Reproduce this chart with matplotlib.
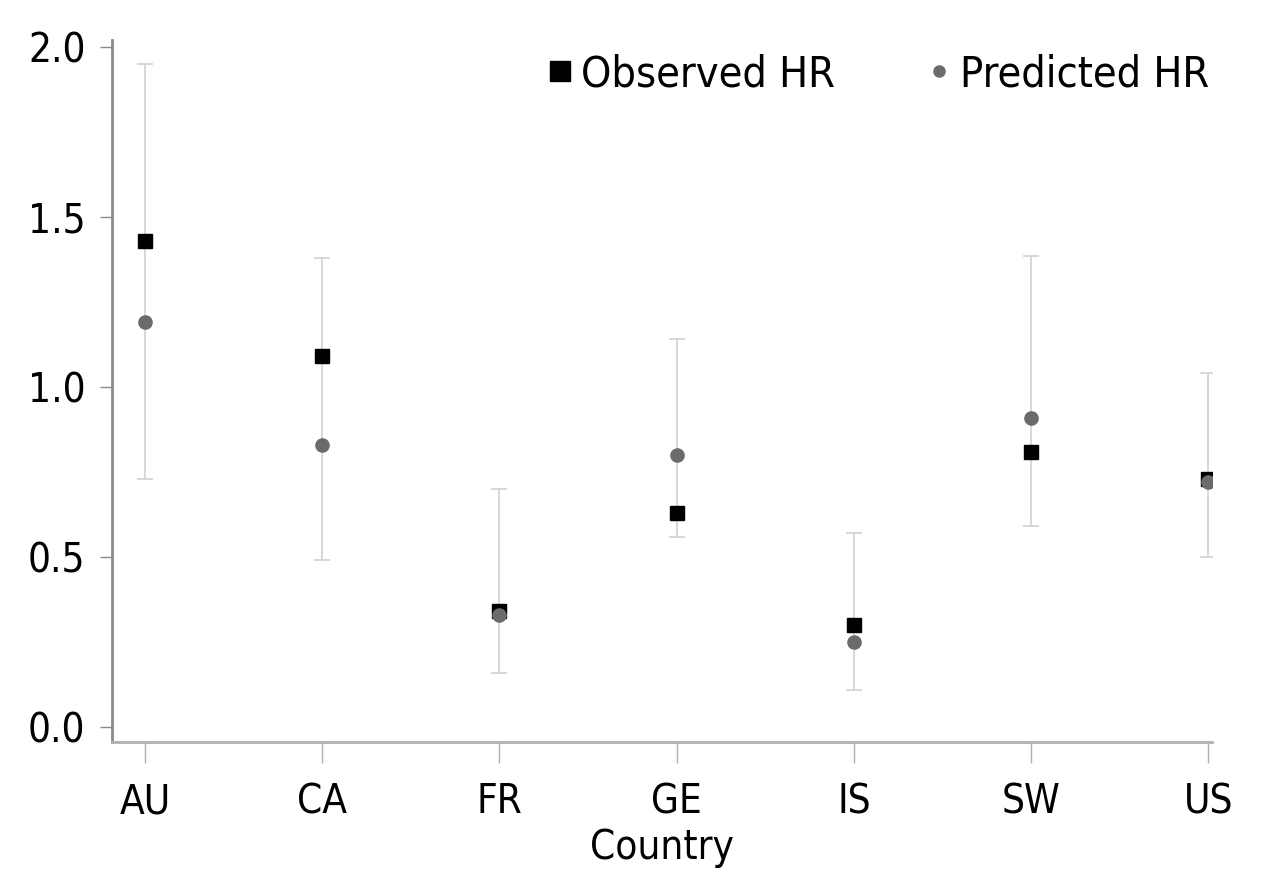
import matplotlib.pyplot as plt
import numpy as np
from matplotlib.lines import Line2D

plt.rcParams["font.family"] = ["DejaVu Sans"]
plt.rcParams["font.stretch"] = "condensed"
plt.rcParams["font.size"] = 29

countries = ["AU", "CA", "FR", "GE", "IS", "SW", "US"]
observed = [1.43, 1.09, 0.34, 0.63, 0.30, 0.81, 0.73]
predicted = [1.19, 0.83, 0.33, 0.80, 0.25, 0.91, 0.72]
ci_low = [0.73, 0.49, 0.16, 0.56, 0.11, 0.59, 0.50]
ci_high = [1.95, 1.38, 0.70, 1.14, 0.57, 1.385, 1.04]

x = np.arange(len(countries))
obs = np.array(observed)

fig = plt.figure(figsize=(12.8, 8.8), dpi=100)
ax = fig.add_axes([112/1280, 1 - 742/880, 1100/1280, 702/880])

ax.errorbar(x, obs, yerr=[obs - np.array(ci_low), np.array(ci_high) - obs],
            fmt="none", ecolor="#d4d4d4", elinewidth=1.3, capsize=6, capthick=1.3, zorder=1)
ax.plot(x, observed, "s", color="black", markersize=9.5, zorder=3)
ax.plot(x, predicted, "o", color="#6b6b6b", markersize=9.5, zorder=4)

ax.set_xlim(-0.186, 6.02)
ax.set_ylim(-0.044, 2.02)
ax.set_xticks(x)
ax.set_xticklabels(countries)
ax.set_yticks([0.0, 0.5, 1.0, 1.5, 2.0])
ax.set_yticklabels(["0.0", "0.5", "1.0", "1.5", "2.0"])
ax.set_xlabel("Country", labelpad=4)

for s in ["top", "right"]:
    ax.spines[s].set_visible(False)
ax.spines["left"].set_color("#8a8a8a")
ax.spines["bottom"].set_color("#b0b0b0")
ax.spines["left"].set_linewidth(2)
ax.spines["bottom"].set_linewidth(2)
ax.tick_params(axis="x", length=15, width=1, color="#b0b0b0", pad=14)
ax.tick_params(axis="y", length=9, width=1, color="#8a8a8a", pad=10)

handles = [Line2D([], [], marker="s", color="black", ls="none", markersize=14),
           Line2D([], [], marker="o", color="#6b6b6b", ls="none", markersize=8)]
ax.legend(handles, ["Observed HR", "Predicted HR"], ncol=2, frameon=False,
          loc="upper right", bbox_to_anchor=(1.033, 1.036), handletextpad=0.1,
          columnspacing=2.0, fontsize=31, handlelength=0.8)

fig.savefig("out.png", dpi=100)
